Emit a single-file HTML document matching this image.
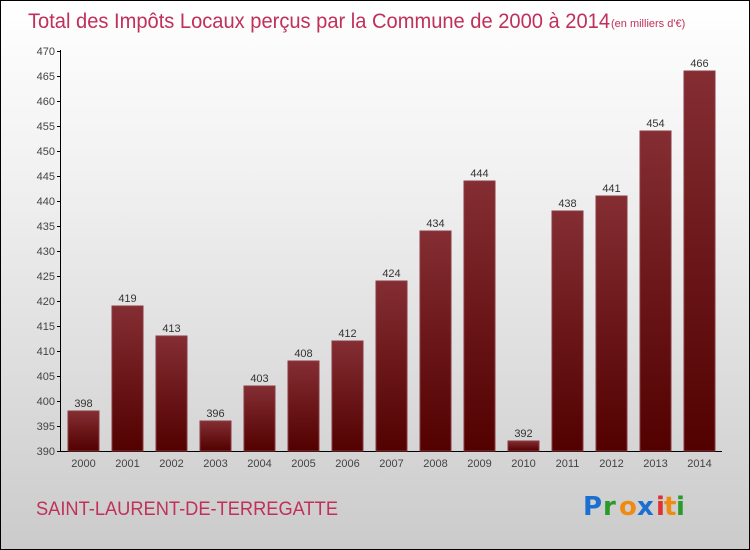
<!DOCTYPE html>
<html><head><meta charset="utf-8"><style>
body{margin:0}
#c{position:relative;width:748px;height:548px;border:1px solid #000;background:linear-gradient(#fff,#f2f2f2 30%,#cbcbcb);font-family:"Liberation Sans",sans-serif;overflow:hidden}
</style></head><body>
<div id="c">
<svg width="748" height="548" id="s">
<defs><linearGradient id="g" x1="0" y1="0" x2="0" y2="1"><stop offset="0" stop-color="#842e33"/><stop offset="1" stop-color="#520000"/></linearGradient></defs>
<text x="27" y="27" font-size="21" fill="#c0305a" textLength="582" lengthAdjust="spacingAndGlyphs">Total des Impôts Locaux perçus par la Commune de 2000 à 2014</text>
<text x="610" y="26" font-size="11" fill="#c0305a">(en milliers d'€)</text>
<text x="35" y="514" font-size="19" fill="#c0305a" textLength="302" lengthAdjust="spacingAndGlyphs">SAINT-LAURENT-DE-TERREGATTE</text>
<g font-size="26" font-weight="bold" font-family="'DejaVu Sans',sans-serif">
<text x="582" y="514" fill="#1a6fd0">P</text><text x="602" y="514" fill="#2a9a2a">r</text><text x="618" y="514" fill="#f08a10">o</text><text x="636" y="514" fill="#1a6fd0">x</text><text x="655" y="514" fill="#e03030">i</text><text x="663" y="514" fill="#f08a10">t</text><text x="675" y="514" fill="#2a9a2a">i</text></g>
<g id="plot"></g>
</svg></div>
<script>
const years=["2000","2001","2002","2003","2004","2005","2006","2007","2008","2009","2010","2011","2012","2013","2014"];
const values=[398,419,413,396,403,408,412,424,434,444,392,438,441,454,466];
const yTicks=[390,395,400,405,410,415,420,425,430,435,440,445,450,455,460,465,470];
const NS="http://www.w3.org/2000/svg",p=document.getElementById('plot');
const y=v=>450-(v-390)*5, x=i=>82.5+i*44;
function mk(t,a,txt){const e=document.createElementNS(NS,t);for(const k in a)e.setAttribute(k,a[k]);if(txt!=null)e.textContent=txt;p.appendChild(e);return e;}
let ax=mk('line',{x1:59.5,y1:49,x2:59.5,y2:450.5,stroke:'#000'});


let bx=mk('line',{x1:59,y1:450.5,x2:721,y2:450.5,stroke:'#000'});


yTicks.forEach(t=>{
 let l=mk('line',{x1:56,x2:60,y1:y(t)+.5,y2:y(t)+.5,stroke:'#000'});
 
 
 let tx=mk('text',{x:54,y:y(t)+4,'font-size':11,fill:'#444','text-anchor':'end'},t);
 
 
});
years.forEach((yr,i)=>{
 const v=values[i];
 let r=mk('rect',{x:x(i)-15.5,y:y(v),width:31,height:450-y(v),fill:'url(#g)',stroke:'#8a3a40','stroke-width':1});
 
 
 let vl=mk('text',{x:x(i),y:y(v)-4,'font-size':11,fill:'#333','text-anchor':'middle'},v);
 
 
 let xl=mk('text',{x:x(i),y:466,'font-size':11,fill:'#444','text-anchor':'middle'},yr);
 
 
});
</script>
</body></html>
